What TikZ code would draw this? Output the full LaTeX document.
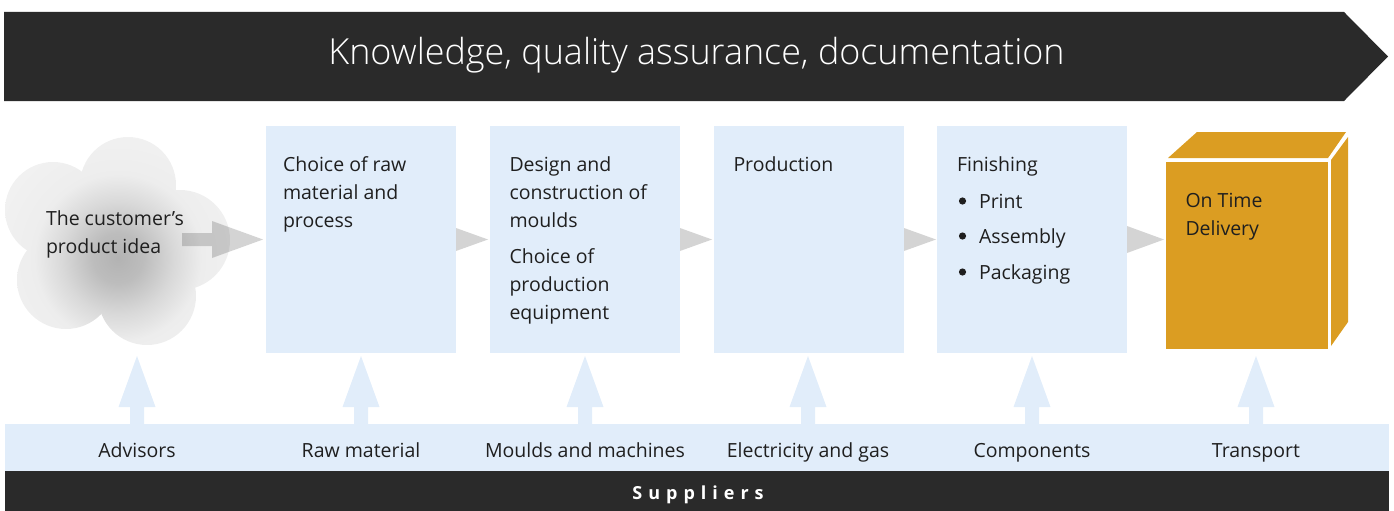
\documentclass[tikz,border=0pt]{standalone}
\usepackage{fontspec}
\setmainfont{Open Sans}
\newfontfamily\thinf{Open Sans Light}
\usetikzlibrary{calc}
\definecolor{pale}{HTML}{E1EDFA}
\definecolor{ink}{HTML}{2A2A2A}
\definecolor{amber}{HTML}{DB9D22}
\pgfdeclareradialshading{cloudsh}{\pgfpoint{0bp}{0bp}}{rgb(0bp)=(.70,.70,.70); rgb(4.5bp)=(.74,.74,.74); rgb(10bp)=(.85,.85,.85); rgb(15bp)=(.93,.93,.93); rgb(25bp)=(.95,.95,.95); rgb(50bp)=(.95,.95,.95)}
\tikzset{
  x=1pt,y=-1pt,
  stepbox/.style={fill=pale,draw=none,minimum width=190pt,minimum height=227pt,inner sep=0pt,outer sep=0pt},
  body/.style={font=\fontsize{19.5}{28}\selectfont,text=black!88,inner sep=0pt,outer sep=0pt,align=left},
  supply/.style={font=\fontsize{19.5}{28}\selectfont,text=black!88,inner sep=0pt,anchor=base},
  flowtip/.style={fill=black,fill opacity=.17,draw=none},
  uparrow/.style={fill=pale,draw=none},
}
\newcommand{\uparr}[1]{\fill[uparrow] ($(#1)+(-7,0)$) -- ($(#1)+(-7,-17)$) -- ($(#1)+(-18.5,-17)$) -- ($(#1)+(0,-68)$) -- ($(#1)+(18.5,-17)$) -- ($(#1)+(7,-17)$) -- ($(#1)+(7,0)$) -- cycle;}
\newcommand{\cloudfill}{\shade[shading=cloudsh] (118,258) circle[radius=140];}
\begin{document}
\begin{tikzpicture}
\useasboundingbox (0,0) rectangle (1394,511);
% banner
\fill[ink] (4,12) -- (1344,12) -- (1388,56.5) -- (1344,101) -- (4,101) -- cycle;
\node[font=\thinf\fontsize{35.9}{40}\selectfont,text=white,inner sep=0pt] (banner) at (696.5,55) {Knowledge, quality assurance, documentation};
% cloud: every lobe is clipped from one and the same shading
\foreach \cx/\cy/\r in {128/185/48,53/210/48,180/240/50,147/296/49,66/280/49}{
  \begin{scope}
    \clip (\cx,\cy) circle[radius=\r];
    \cloudfill
  \end{scope}
}
\begin{scope}
  \clip (60,190) -- (50,290) -- (120,320) -- (190,260) -- (150,170) -- cycle;
  \cloudfill
\end{scope}
\node[body,anchor=north west] (idea) at (46,211) {The customer’s\\product idea};
% steps
\node[stepbox] (b1) at (361,239.5) {};
\node[stepbox] (b2) at (585,239.5) {};
\node[stepbox] (b3) at (809,239.5) {};
\node[stepbox] (b4) at (1032,239.5) {};
\node[body,anchor=north west] (t1) at (283,157) {Choice of raw\\material and\\process};
\node[body,anchor=north west] (t2) at (509.5,157) {Design and\\construction of\\moulds};
\node[body,anchor=north west] (t2b) at (509.5,249) {Choice of\\production\\equipment};
\node[body,anchor=north west] (t3) at (733.5,157) {Production};
\node[body,anchor=north west] (t4) at (957,157) {Finishing};
\node[body,anchor=north west] (t4a) at (979,194) {Print};
\node[body,anchor=north west] (t4b) at (979,229) {Assembly};
\node[body,anchor=north west] (t4c) at (979,265) {Packaging};
\foreach \n/\y in {t4a/201,t4b/236,t4c/272} \fill[black!88] (962.5,\y) circle[radius=3.6];
% box
\fill[amber] (1168,158) -- (1197,132) -- (1346,132) -- (1328,158) -- cycle;
\fill[amber] (1348,137) -- (1348,322) -- (1331,346) -- (1331,160) -- cycle;
\node[fill=amber,minimum width=162pt,minimum height=187pt,inner sep=0pt,outer sep=0pt] (deliv) at (1247,255.5) {};
\node[body,anchor=north west] (t5) at (1185.5,193) {On Time\\Delivery};
% flow arrows
\fill[flowtip] (182,233) -- (212,233) -- (212,221) -- (263,239.5) -- (212,258) -- (212,246) -- (182,246) -- cycle;
\fill[flowtip] ($(b1.east)+(0,-11.5)$) -- ($(b2.west)+(-2,0)$) -- ($(b1.east)+(0,11.5)$) -- cycle;
\fill[flowtip] ($(b2.east)+(0,-11.5)$) -- ($(b3.west)+(-2,0)$) -- ($(b2.east)+(0,11.5)$) -- cycle;
\fill[flowtip] ($(b3.east)+(0,-11.5)$) -- ($(b4.west)+(-1,0)$) -- ($(b3.east)+(0,11.5)$) -- cycle;
\fill[flowtip] ($(b4.east)+(0,-13.5)$) -- ($(deliv.west)+(-2,-16)$) -- ($(b4.east)+(0,13.5)$) -- cycle;
% suppliers
\fill[pale] (5,424) rectangle (1389,471);
\fill[ink] (5,471) rectangle (1389,511);
\node[font=\fontsize{18}{20}\selectfont\bfseries,text=white,inner sep=0pt] (sup) at (698,495) {S\,\,u\,\,p\,\,p\,\,l\,\,i\,\,e\,\,r\,\,s};
\foreach \x/\nm/\t in {137/s1/Advisors,361/s2/Raw material,585/s3/Moulds and machines,808/s4/Electricity and gas,1032/s5/Components,1256/s6/Transport}{
  \coordinate (\nm a) at (\x,424);
  \uparr{\nm a}
  \node[supply] (\nm) at (\x,457) {\t};
}
\end{tikzpicture}
\end{document}
